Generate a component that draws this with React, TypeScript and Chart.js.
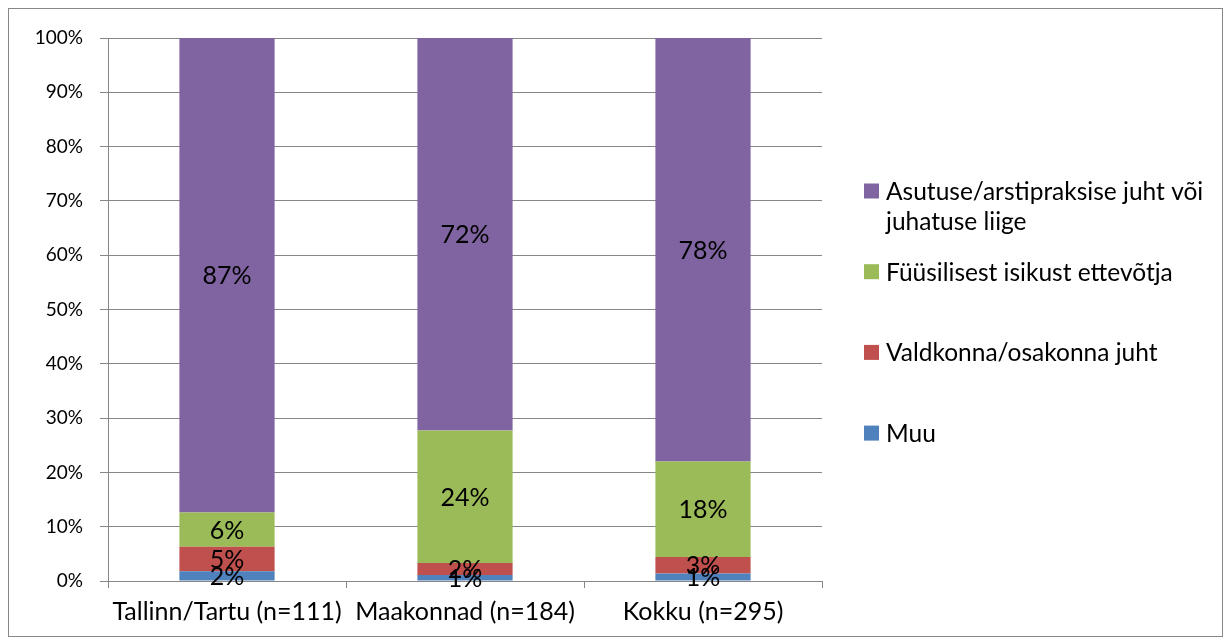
import React, { useEffect, useRef } from "react";
import { Chart, registerables } from "chart.js";

Chart.register(...registerables);

const categories = ["Tallinn/Tartu (n=111)", "Maakonnad (n=184)", "Kokku (n=295)"];
const muu = [1.8, 1.1, 1.4];
const valdkonnaJuht = [4.5, 2.2, 3.0];
const fyysilineIsik = [6.3, 24.4, 17.6];
const asutuseJuht = [87.4, 72.3, 78.0];
const seriesNames = [
  "Muu",
  "Valdkonna/osakonna juht",
  "Füüsilisest isikust ettevõtja",
  "Asutuse/arstipraksise juht või juhatuse liige",
];
const seriesColors = ["#4F81BD", "#C0504D", "#9BBB59", "#8064A2"];
const yTickValues = [0, 10, 20, 30, 40, 50, 60, 70, 80, 90, 100];

const FONT = "Lato, 'Open Sans', sans-serif";

const dataLabelPlugin = {
  id: "dataLabels",
  afterDatasetsDraw(chart: any) {
    const ctx = chart.ctx;
    ctx.save();
    ctx.font = `25px ${FONT}`;
    ctx.fillStyle = "#000";
    ctx.textAlign = "center";
    ctx.textBaseline = "middle";
    chart.data.datasets.forEach((ds: any, di: number) => {
      const meta = chart.getDatasetMeta(di);
      meta.data.forEach((bar: any, i: number) => {
        const v = ds.data[i];
        const y = (bar.y + bar.base) / 2;
        ctx.fillText(Math.round(v) + "%", bar.x, y + 1);
      });
    });
    ctx.restore();
  },
};

const legendPlugin = {
  id: "sideLegend",
  afterDraw(chart: any) {
    const ctx = chart.ctx;
    const boxX = 855;
    const textX = 877;
    const top = 182;
    const step = 80.7;
    const lineH = 30;
    const maxW = 335;
    ctx.save();
    ctx.font = `24.5px ${FONT}`;
    ctx.textBaseline = "middle";
    ctx.textAlign = "left";
    const order = chart.data.datasets.map((_: any, i: number) => i).reverse();
    order.forEach((di: number, k: number) => {
      const ds = chart.data.datasets[di];
      const y = top + k * step;
      ctx.fillStyle = ds.backgroundColor;
      ctx.fillRect(boxX, y - 7.5, 15, 15);
      const words = String(ds.label).split(" ");
      const lines: string[] = [];
      let cur = "";
      words.forEach((w) => {
        const t = cur ? cur + " " + w : w;
        if (ctx.measureText(t).width > maxW && cur) {
          lines.push(cur);
          cur = w;
        } else cur = t;
      });
      if (cur) lines.push(cur);
      ctx.fillStyle = "#000";
      lines.forEach((ln, li) => ctx.fillText(ln, textX, y + 1 + li * lineH));
    });
    ctx.restore();
  },
};

export default function App() {
  const ref = useRef<HTMLCanvasElement | null>(null);
  useEffect(() => {
    if (!ref.current) return;
    const seriesData = [muu, valdkonnaJuht, fyysilineIsik, asutuseJuht];
    const chart = new Chart(ref.current, {
      type: "bar",
      data: {
        labels: categories,
        datasets: seriesData.map((d, i) => ({
          label: seriesNames[i],
          data: d,
          backgroundColor: seriesColors[i],
          borderWidth: 0,
          barPercentage: 0.4,
          categoryPercentage: 1.0,
        })),
      },
      options: {
        responsive: false,
        animation: false,
        layout: { padding: { top: 29, right: 400, left: 0, bottom: 0 } },
        plugins: { legend: { display: false }, tooltip: { enabled: false } },
        scales: {
          x: {
            stacked: true,
            grid: {
              display: true,
              drawOnChartArea: false,
              drawTicks: true,
              tickLength: 7,
              color: "#868686",
              offset: true,
            },
            border: { color: "#868686", width: 1 },
            ticks: { color: "#000", font: { family: FONT, size: 25 }, padding: 9, maxRotation: 0, autoSkip: false },
            afterFit: (s: any) => {
              s.height = 55;
            },
          },
          y: {
            stacked: true,
            min: 0,
            max: 100,
            afterBuildTicks: (s: any) => {
              s.ticks = yTickValues.map((v) => ({ value: v }));
            },
            grid: { color: "#868686", tickLength: 8 },
            border: { color: "#868686", width: 1 },
            ticks: {
              color: "#000",
              font: { family: FONT, size: 19 },
              padding: 17,
              callback: (v: any) => v + "%",
            },
            afterFit: (s: any) => {
              s.width = 99;
            },
          },
        },
      },
      plugins: [dataLabelPlugin, legendPlugin],
    });
    return () => chart.destroy();
  }, []);
  return (
    <div
      style={{
        width: 1215,
        height: 629,
        border: "1px solid #878787",
        boxSizing: "border-box",
        position: "relative",
        background: "#fff",
      }}
    >
      <canvas ref={ref} width={1213} height={627} style={{ display: "block" }} />
    </div>
  );
}
